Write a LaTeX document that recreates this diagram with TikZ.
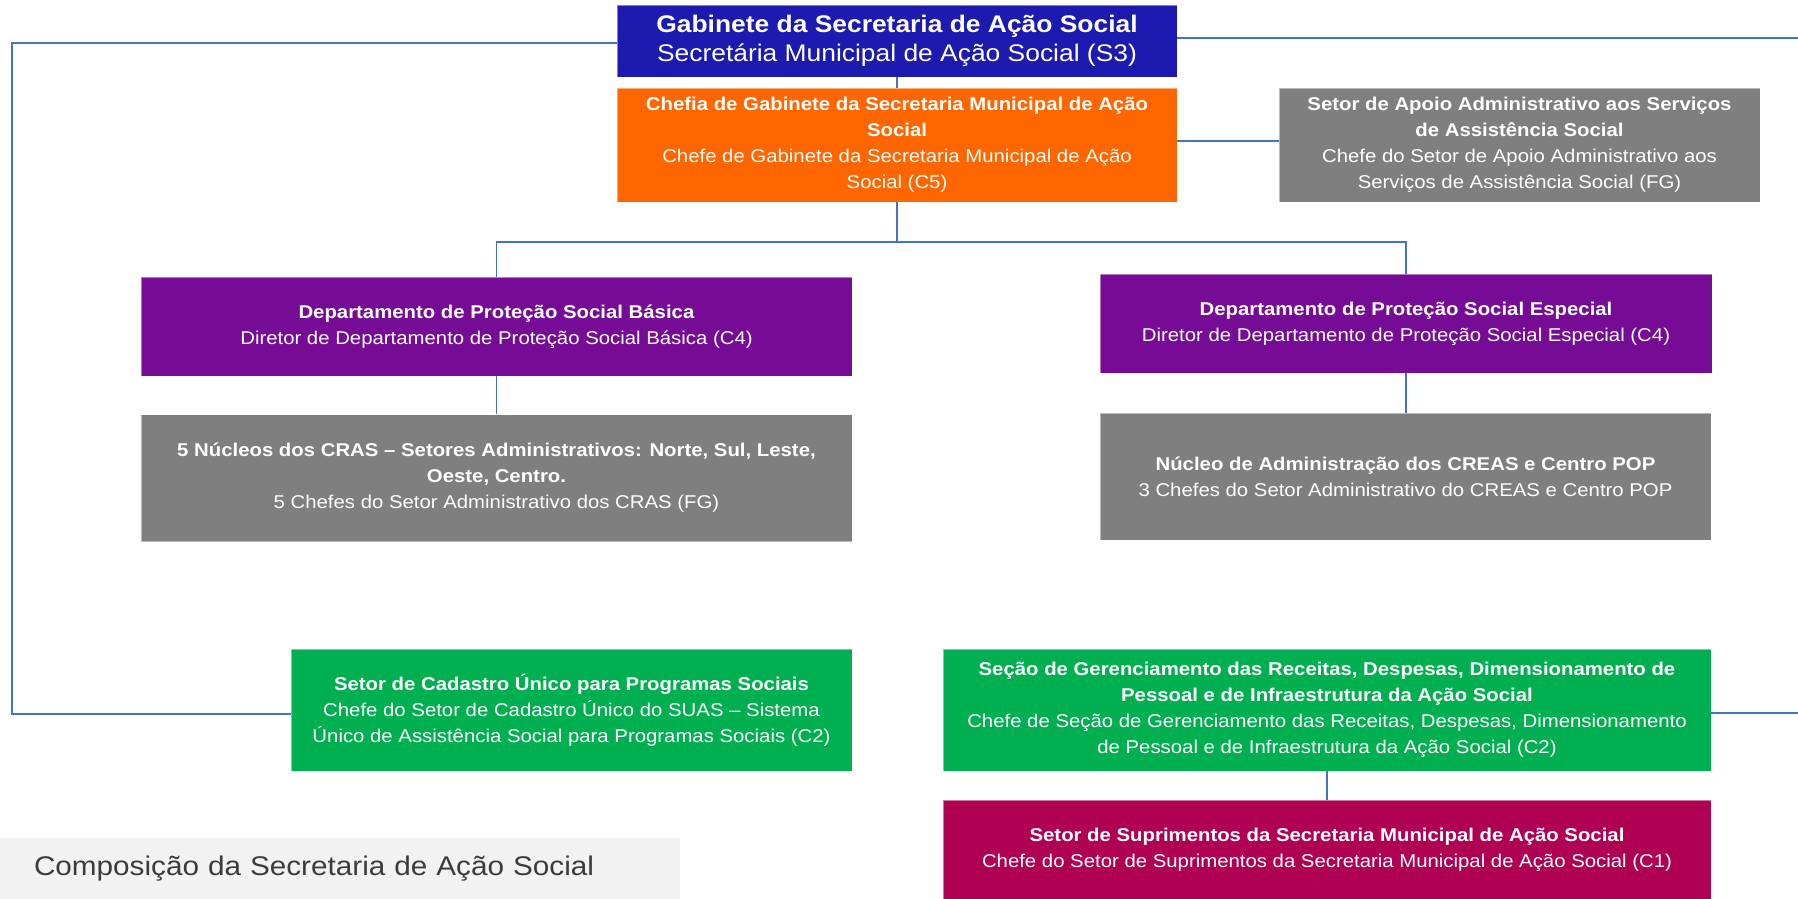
\documentclass[tikz,border=0pt]{standalone}
\usepackage{fontspec}
\newfontfamily\body[FakeStretch=1.1]{Liberation Sans}
\definecolor{blueC}{RGB}{28,26,175}
\definecolor{orangeC}{RGB}{255,102,0}
\definecolor{grayC}{RGB}{127,127,127}
\definecolor{purpleC}{RGB}{118,12,150}
\definecolor{greenC}{RGB}{0,176,80}
\definecolor{magentaC}{RGB}{176,0,84}
\definecolor{connblue}{RGB}{68,114,196}
\definecolor{capgray}{RGB}{242,242,242}
\definecolor{captext}{RGB}{60,60,60}
\begin{document}
\begin{tikzpicture}[x=1pt,y=-1pt,
  box/.style={rectangle, inner sep=0pt, text=white, align=center,
    font=\body\fontsize{18.5}{26}\selectfont,
    draw=white, draw opacity=0.45, line width=0.8pt},
  conn/.style={draw=connblue, line width=1.6pt}]
\useasboundingbox (0,0) rectangle (1798,899);

% boxes
\node[box, fill=blueC, minimum width=560pt, minimum height=72pt,
  font=\body\fontsize{24}{28.5}\selectfont] (blue) at (897,41)
  {\textbf{Gabinete da Secretaria de Ação Social}\\Secretária Municipal de Ação Social (S3)};
\node[box, fill=orangeC, minimum width=560pt, minimum height=114pt] (orange) at (897,145)
  {\textbf{Chefia de Gabinete da Secretaria Municipal de Ação}\\\textbf{Social}\\Chefe de Gabinete da Secretaria Municipal de Ação\\Social (C5)};
\node[box, fill=grayC, minimum width=481pt, minimum height=114pt] (grayTR) at (1519.5,145)
  {\textbf{Setor de Apoio Administrativo aos Serviços}\\\textbf{de Assistência Social}\\Chefe do Setor de Apoio Administrativo aos\\Serviços de Assistência Social (FG)};
\node[box, fill=purpleC, minimum width=711pt, minimum height=99pt] (purpleL) at (496.5,326.5)
  {\textbf{Departamento de Proteção Social Básica}\\Diretor de Departamento de Proteção Social Básica (C4)};
\node[box, fill=purpleC, minimum width=612pt, minimum height=99pt] (purpleR) at (1406,323.5)
  {\textbf{Departamento de Proteção Social Especial}\\Diretor de Departamento de Proteção Social Especial (C4)};
\node[box, fill=grayC, minimum width=711pt, minimum height=127pt] (grayL) at (496.5,478)
  {\textbf{5 Núcleos dos CRAS – Setores Administrativos: Norte, Sul, Leste,}\\\textbf{Oeste, Centro.}\\5 Chefes do Setor Administrativo dos CRAS (FG)};
\node[box, fill=grayC, minimum width=611pt, minimum height=127pt] (grayR) at (1405.5,476.5)
  {\textbf{Núcleo de Administração dos CREAS e Centro POP}\\3 Chefes do Setor Administrativo do CREAS e Centro POP};
\node[box, fill=greenC, minimum width=561pt, minimum height=122pt] (greenL) at (571.5,710)
  {\textbf{Setor de Cadastro Único para Programas Sociais}\\Chefe do Setor de Cadastro Único do SUAS – Sistema\\Único de Assistência Social para Programas Sociais (C2)};
\node[box, fill=greenC, minimum width=768pt, minimum height=122pt] (greenR) at (1327,710)
  {\textbf{Seção de Gerenciamento das Receitas, Despesas, Dimensionamento de}\\\textbf{Pessoal e de Infraestrutura da Ação Social}\\Chefe de Seção de Gerenciamento das Receitas, Despesas, Dimensionamento\\de Pessoal e de Infraestrutura da Ação Social (C2)};
\node[box, fill=magentaC, minimum width=768pt, minimum height=99pt] (magenta) at (1327,849.5)
  {\textbf{Setor de Suprimentos da Secretaria Municipal de Ação Social}\\Chefe do Setor de Suprimentos da Secretaria Municipal de Ação Social (C1)};
\node[rectangle, fill=capgray, minimum width=680pt, minimum height=61pt,
  inner xsep=34pt, inner ysep=0pt, text width=612pt, align=left, text=captext,
  font=\body\fontsize{27}{32}\selectfont] (caption) at (340,868.5)
  {\raisebox{-3pt}{Composição da Secretaria de Ação Social}};

% coordinates for free ends
\coordinate (leftc) at (12,400);
\coordinate (rightedge) at (1798,400);
\coordinate (j) at (897,242);

% connectors
\draw[conn] (blue.south) -- (orange.north);
\draw[conn] ([yshift=-2pt]blue.west) -| (leftc) |- ([yshift=-4pt]greenL.west);
\draw[conn] ([yshift=3pt]blue.east) -- ([yshift=3pt]blue.east -| rightedge);
\draw[conn] ([yshift=4pt]orange.east) -- ([yshift=4pt]orange.east -| grayTR.west);
\draw[conn] (orange.south) -- (j);
\draw[conn] (purpleL.north) |- (j) -| (purpleR.north);
\draw[conn] (purpleL.south) -- (grayL.north);
\draw[conn] (purpleR.south) -- (purpleR.south |- grayR.north);
\draw[conn] ([yshift=-3pt]greenR.east) -- ([yshift=-3pt]greenR.east -| rightedge);
\draw[conn] (greenR.south) -- (magenta.north);
\end{tikzpicture}
\end{document}
